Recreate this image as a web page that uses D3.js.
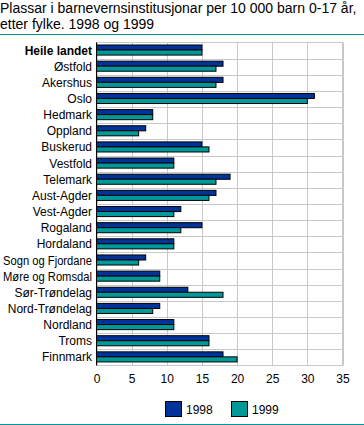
<!DOCTYPE html>
<html>
<head>
<meta charset="utf-8">
<script src="https://cdn.jsdelivr.net/npm/d3@7"></script>
<style>
  body { margin: 0; background: #fff; }
  text { font-family: "Liberation Sans", Arial, sans-serif; fill: #000; }
</style>
</head>
<body>
<div id="chart"></div>
<script>
// fylke, i same rekkefølgje som i figuren
const fylke = ["Heile landet", "Østfold", "Akershus", "Oslo", "Hedmark", "Oppland",
  "Buskerud", "Vestfold", "Telemark", "Aust-Agder", "Vest-Agder", "Rogaland",
  "Hordaland", "Sogn og Fjordane", "Møre og Romsdal", "Sør-Trøndelag",
  "Nord-Trøndelag", "Nordland", "Troms", "Finnmark"];
const aar = ["1998", "1999"];
const verdi1998 = [15, 18, 18, 31, 8, 7, 15, 11, 19, 17, 12, 15, 11, 7, 9, 13, 9, 11, 16, 18];
const verdi1999 = [15, 17, 17, 30, 8, 6, 16, 11, 17, 16, 11, 12, 11, 6, 9, 18, 8, 11, 16, 20];
const xTicks = [0, 5, 10, 15, 20, 25, 30, 35];

const fargar = ["#003399", "#009999"];
const W = 364, H = 425;

const svg = d3.select("#chart").append("svg")
  .attr("width", W).attr("height", H);

// tittel
svg.append("text").attr("x", 0).attr("y", 13)
  .style("font-size", "14px")
  .text("Plassar i barnevernsinstitusjonar per 10 000 barn 0-17 år,");
svg.append("text").attr("x", 0).attr("y", 29)
  .style("font-size", "14px")
  .text("etter fylke. 1998 og 1999");
svg.append("line").attr("x1", 0).attr("x2", W).attr("y1", 34.5).attr("y2", 34.5)
  .attr("stroke", "#009999").attr("stroke-width", 1);

const plot = { left: 96.5, right: 342.5, top: 42.5, bottom: 365.5 };

const x = d3.scaleLinear().domain([0, 35]).range([plot.left, plot.right]);
const y = d3.scaleBand().domain(fylke).range([plot.top, plot.bottom]).paddingInner(0);
const ySub = d3.scaleBand().domain(aar).range([2, y.bandwidth() - 4]);

// rutenett
const g = svg.append("g");
g.selectAll("line.vx").data(xTicks).enter().append("line")
  .attr("x1", d => Math.round(x(d)) + 0.5).attr("x2", d => Math.round(x(d)) + 0.5)
  .attr("y1", plot.top).attr("y2", plot.bottom)
  .attr("stroke", "#c8c8c8");
g.selectAll("line.hy").data(fylke.slice(1)).enter().append("line")
  .attr("x1", plot.left).attr("x2", plot.right)
  .attr("y1", d => Math.round(y(d)) + 0.5).attr("y2", d => Math.round(y(d)) + 0.5)
  .attr("stroke", "#c8c8c8");
g.append("rect").attr("x", plot.left).attr("y", plot.top)
  .attr("width", plot.right - plot.left).attr("height", plot.bottom - plot.top)
  .attr("fill", "none").attr("stroke", "#c8c8c8");

// stolpar
const rader = fylke.map((f, i) => ({ fylke: f, verdiar: [verdi1998[i], verdi1999[i]] }));
const rad = svg.selectAll("g.rad").data(rader).enter().append("g")
  .attr("transform", d => "translate(0," + y(d.fylke) + ")");
rad.selectAll("rect").data(d => d.verdiar.map((v, j) => ({ aar: aar[j], v: v, j: j })))
  .enter().append("rect")
  .attr("x", x(0))
  .attr("y", d => Math.round(ySub(d.aar)) + 0.5)
  .attr("width", d => x(d.v) - x(0))
  .attr("height", ySub.bandwidth())
  .attr("fill", d => fargar[d.j])
  .attr("stroke", "#000").attr("stroke-width", 1);

// aksen på venstre side
svg.append("line").attr("x1", plot.left).attr("x2", plot.left)
  .attr("y1", plot.top).attr("y2", plot.bottom).attr("stroke", "#000");

// kategori-etikettar (klemt saman om dei blir for breie)
svg.selectAll("text.lab").data(fylke).enter().append("text")
  .attr("x", 92)
  .attr("y", d => y(d) + y.bandwidth() / 2 + 4)
  .attr("text-anchor", "end")
  .style("font-size", "12px")
  .style("font-weight", (d, i) => i === 0 ? "bold" : "normal")
  .text(d => d)
  .each(function () {
    if (this.getComputedTextLength() > 89) {
      d3.select(this).attr("textLength", 89).attr("lengthAdjust", "spacingAndGlyphs");
    }
  });

// x-akse
const xAxis = d3.axisBottom(x).tickValues(xTicks).tickSize(0).tickPadding(9);
const ax = svg.append("g").attr("transform", "translate(0," + plot.bottom + ")").call(xAxis);
ax.select(".domain").remove();
ax.selectAll("text").style("font-size", "12px").style("font-family", "Liberation Sans, Arial, sans-serif").attr("fill", "#000");

// forklaring
const leg = svg.append("g");
aar.forEach((a, i) => {
  const lx = 165 + i * 66;
  leg.append("rect").attr("x", lx + 0.5).attr("y", 401.5).attr("width", 16).attr("height", 15)
    .attr("fill", fargar[i]).attr("stroke", "#000");
  leg.append("text").attr("x", lx + 21).attr("y", 414).style("font-size", "12px").text(a);
});

svg.append("line").attr("x1", 0).attr("x2", W).attr("y1", 424.5).attr("y2", 424.5)
  .attr("stroke", "#009999").attr("stroke-width", 1);
</script>
</body>
</html>
